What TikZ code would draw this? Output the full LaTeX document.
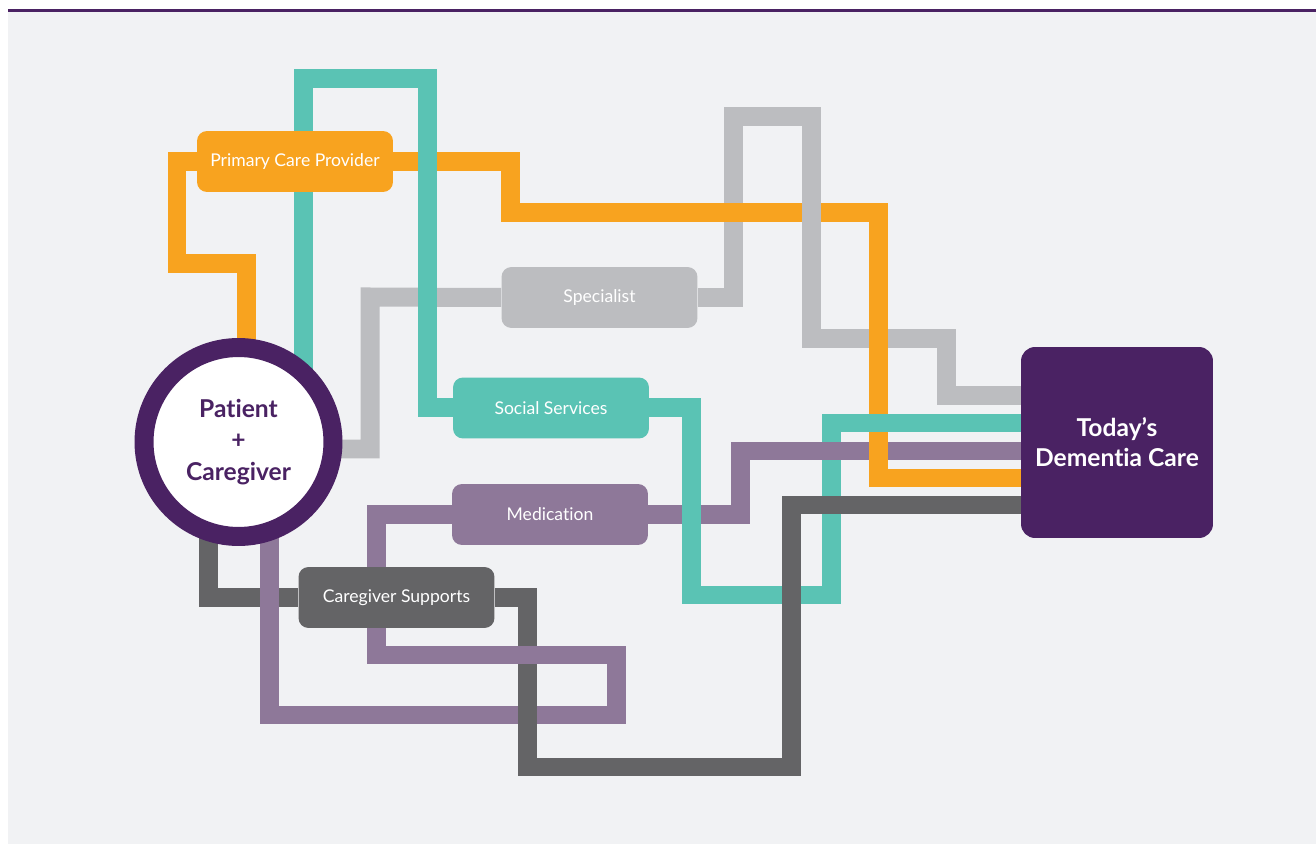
\documentclass[tikz,border=0pt]{standalone}
\usepackage{fontspec}
\setmainfont{Lato}[Ligatures={NoCommon}]
\usepackage{xcolor}
\definecolor{bggray}{HTML}{F1F2F4}
\definecolor{pcporange}{HTML}{F8A31F}
\definecolor{socialteal}{HTML}{5AC3B4}
\definecolor{specgray}{HTML}{BCBDC0}
\definecolor{medmauve}{HTML}{8E7899}
\definecolor{suppgray}{HTML}{646466}
\definecolor{deeppurple}{HTML}{4A2263}
\pgfdeclarelayer{bg}
\pgfdeclarelayer{lines}
\pgfsetlayers{bg,lines,main}

\begin{document}
\begin{tikzpicture}[x=0.02cm,y=-0.02cm,
  pipe/.style={line width=0.38cm},
  careitem/.style={rounded corners=0.2cm,minimum width=3.92cm,minimum height=1.22cm,inner sep=0pt,text=white,font=\fontsize{10}{12}\selectfont}]
\useasboundingbox (0,0) rectangle (1316,844);
\begin{pgfonlayer}{bg}
\fill[white] (0,0) rectangle (1316,844);
\fill[bggray] (8,12) rectangle (1316,844);
\fill[deeppurple] (8,9) rectangle (1316,12.5);
\end{pgfonlayer}

\node[circle,draw=deeppurple,line width=0.38cm,fill=white,minimum size=3.78cm,inner sep=0pt,align=center,text=deeppurple,font=\bfseries\fontsize{14}{18}\selectfont] (patient) at (238.5,442) {Patient\\+\\Caregiver};
\node[careitem,fill=pcporange] (pcp) at (295,161.5) {Primary Care Provider};
\node[careitem,fill=specgray] (specialist) at (599.5,297.5) {Specialist};
\node[careitem,fill=socialteal] (social) at (551,408) {Social Services};
\node[careitem,fill=medmauve] (medication) at (550,514.5) {Medication};
\node[careitem,fill=suppgray] (supports) at (396.5,597.5) {Caregiver Supports};
\node[fill=deeppurple,rounded corners=0.28cm,minimum width=3.84cm,minimum height=3.82cm,inner sep=0pt,align=center,text=white,font=\bfseries\fontsize{14}{17}\selectfont] (today) at (1117,442.5) {Today’s\\Dementia Care};

\begin{pgfonlayer}{lines}
\draw[pipe,specgray] (patient.center |- 0,449) -| (370,297) -- (specialist.west);
\draw[pipe,specgray] (specialist.east) -| (733,117) -| (811,339) -| (946,396) -- (today.west |- 0,396);
\draw[pipe,pcporange] (patient.center -| 246,0) |- (177,264) |- (pcp.west);
\draw[pipe,pcporange] (pcp.east) -| (510,213) -| (878,478) -- (today.west |- 0,478);
\draw[pipe,socialteal] (patient.center -| 303,0) |- (427,79) |- (social.west);
\draw[pipe,socialteal] (social.east) -| (691,595) -| (831,423) -- (today.west |- 0,423);
\draw[pipe,medmauve] (patient.center -| 269,0) |- (616,715) |- (376,655) |- (medication.west);
\draw[pipe,medmauve] (medication.east) -| (740,451) -- (today.west |- 0,451);
\draw[pipe,suppgray] (patient.center -| 208,0) |- (supports.west);
\draw[pipe,suppgray] (supports.east) -| (527,767) -| (791,505) -- (today.west |- 0,505);
\draw[pipe,specgray] (811,195) -- (811,231);
\draw[pipe,pcporange] (878,437) -- (878,466);
\draw[pipe,socialteal] (691,495) -- (691,530);
\draw[pipe,medmauve] (269,580) -- (269,615);
\draw[pipe,medmauve] (510,655) -- (545,655);
\end{pgfonlayer}
\end{tikzpicture}
\end{document}
